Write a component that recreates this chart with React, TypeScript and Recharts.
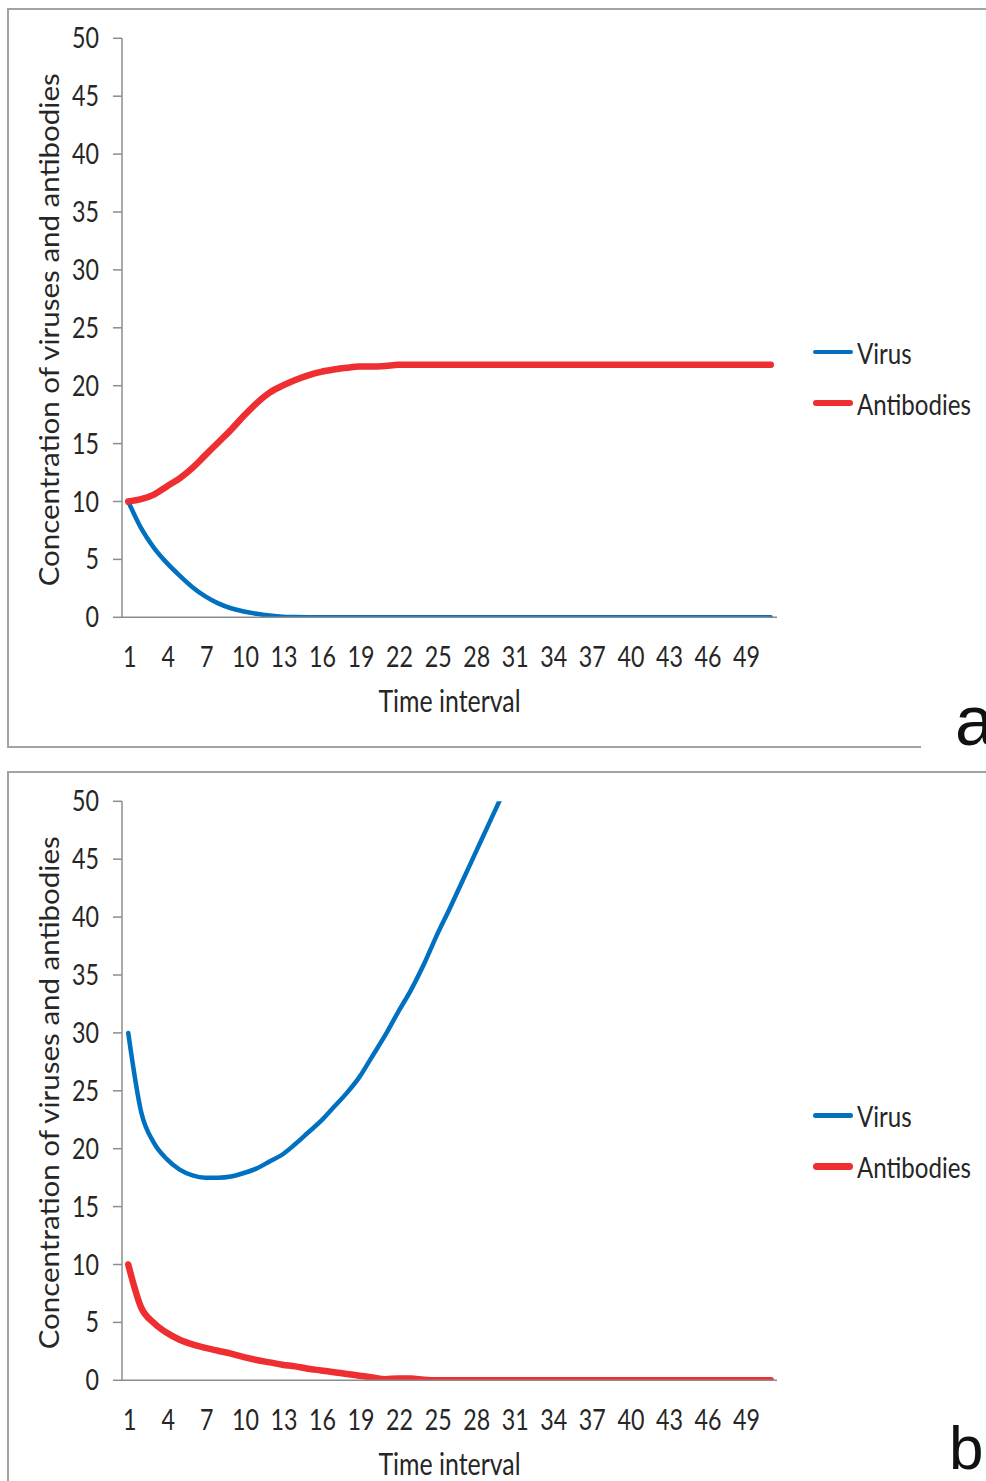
import { LineChart, Line, XAxis, YAxis, Legend } from 'recharts';

// Time steps 1..51 (category axis)
const timeSteps = [
  1, 2, 3, 4, 5, 6, 7, 8, 9, 10, 11, 12, 13, 14, 15, 16, 17, 18, 19, 20,
  21, 22, 23, 24, 25, 26, 27, 28, 29, 30, 31, 32, 33, 34, 35, 36, 37, 38, 39, 40,
  41, 42, 43, 44, 45, 46, 47, 48, 49, 50, 51,
];

// Panel a: antibodies clear the virus
const virusA = [
  10, 7.7, 6.0, 4.7, 3.6, 2.6, 1.8, 1.2, 0.78, 0.5, 0.3, 0.15, 0.05, 0.02, 0.01, 0,
  0, 0, 0, 0, 0, 0, 0, 0, 0, 0, 0, 0, 0, 0, 0, 0, 0, 0, 0, 0, 0, 0, 0, 0, 0, 0, 0,
  0, 0, 0, 0, 0, 0, 0, 0,
];
const antibodiesA = [
  10, 10.2, 10.6, 11.3, 12.0, 12.9, 14.0, 15.1, 16.2, 17.4, 18.5, 19.4, 20.0, 20.5,
  20.9, 21.2, 21.4, 21.55, 21.65, 21.65, 21.7, 21.8, 21.8, 21.8, 21.8, 21.8, 21.8,
  21.8, 21.8, 21.8, 21.8, 21.8, 21.8, 21.8, 21.8, 21.8, 21.8, 21.8, 21.8, 21.8, 21.8,
  21.8, 21.8, 21.8, 21.8, 21.8, 21.8, 21.8, 21.8, 21.8, 21.8,
];

// Panel b: virus escapes, antibodies die out (virus runs off the top of the scale)
const virusB = [
  30, 23.2, 20.5, 19.1, 18.2, 17.7, 17.5, 17.5, 17.6, 17.9, 18.3, 18.9, 19.5, 20.4,
  21.4, 22.4, 23.6, 24.8, 26.2, 28.0, 29.8, 31.8, 33.7, 35.9, 38.4, 40.7, 43.1, 45.5,
  47.9, 50.3, 52.8,
];
const antibodiesB = [
  10, 6.3, 4.95, 4.1, 3.5, 3.1, 2.8, 2.55, 2.3, 2.0, 1.75, 1.55, 1.35, 1.2, 1.0, 0.85,
  0.7, 0.55, 0.4, 0.25, 0.1, 0.15, 0.15, 0.05, 0, 0, 0, 0, 0, 0, 0, 0, 0, 0, 0, 0, 0,
  0, 0, 0, 0, 0, 0, 0, 0, 0, 0, 0, 0, 0, 0,
];

const yTicks = [0, 5, 10, 15, 20, 25, 30, 35, 40, 45, 50];
const seriesOrder = ['virus', 'antibodies'];

const FONT = 'Lato, "Open Sans", sans-serif';
const TAG_FONT = '"Liberation Sans", Arial, sans-serif';
const TEXT = '#262626';
const AXIS = '#8c8c8c';
const FRAME = '#a3a3a3';
const BLUE = '#0070c0';
const RED = '#ee2e31';
const SQUEEZE = 0.83;

const LINE_WIDTH: Record<string, number> = { virus: 4.5, antibodies: 6.5 };

function buildRows(virus: (number | null)[], antibodies: number[]) {
  return timeSteps.map((t, i) => ({
    t,
    virus: virus[i] ?? null,
    antibodies: antibodies[i],
  }));
}

function YTick({ x, y, payload }: any) {
  return (
    <g transform={`translate(${x},${y}) scale(${SQUEEZE},1)`}>
      <text textAnchor="end" dy="0.36em" fill={TEXT} fontFamily={FONT} fontSize={28}>
        {payload.value}
      </text>
    </g>
  );
}

function XTick({ x, y, payload }: any) {
  return (
    <g transform={`translate(${x + 1.5},${y}) scale(${SQUEEZE},1)`}>
      <text textAnchor="middle" dy="0.71em" fill={TEXT} fontFamily={FONT} fontSize={28}>
        {payload.value}
      </text>
    </g>
  );
}

function XTitle({ viewBox }: any) {
  const cx = viewBox.x + viewBox.width / 2;
  const baseline = viewBox.y + 94.7;
  return (
    <g transform={`translate(${cx},${baseline}) scale(${SQUEEZE},1)`}>
      <text textAnchor="middle" fill={TEXT} fontFamily={FONT} fontSize={30}>
        Time interval
      </text>
    </g>
  );
}

function YTitle({ viewBox }: any) {
  const cy = viewBox.y + viewBox.height / 2 + 2;
  return (
    <g transform={`translate(50,${cy}) scale(0.9,1) rotate(-90)`}>
      <text textAnchor="middle" dy="0.35em" fill={TEXT} fontFamily={FONT} fontSize={29.5}>
        Concentration of viruses and antibodies
      </text>
    </g>
  );
}

function SeriesLegend({ payload }: any) {
  const items = seriesOrder
    .map((key) => (payload || []).find((p: any) => p.dataKey === key))
    .filter(Boolean);
  return (
    <div style={{ fontFamily: FONT, fontSize: 29, color: TEXT }}>
      {items.map((entry: any) => (
        <div
          key={entry.dataKey}
          style={{ display: 'flex', alignItems: 'center', height: 51, whiteSpace: 'nowrap' }}
        >
          <span
            style={{
              display: 'inline-block',
              width: 40,
              height: LINE_WIDTH[entry.dataKey] ?? 4,
              background: entry.color,
              borderRadius: 4,
            }}
          />
          <span
            style={{
              display: 'inline-block',
              marginLeft: 4,
              transform: `scaleX(${SQUEEZE})`,
              transformOrigin: 'left center',
            }}
          >
            {entry.value}
          </span>
        </div>
      ))}
    </div>
  );
}

interface PanelProps {
  rows: any[];
  top: number;
  tag: string;
  tagSize: number;
  tagLeft: number;
  tagBaseline: number;
  coverFrame: boolean;
}

function Panel({ rows, top, tag, tagSize, tagLeft, tagBaseline, coverFrame }: PanelProps) {
  // Liberation Sans ascent 0.905em, content area 1.117em
  const tagTop = tagBaseline - 0.905 * tagSize + ((1.117 - 1) * tagSize) / 2;
  return (
    <div style={{ position: 'absolute', left: 0, top, width: 986, height: 720 }}>
      <LineChart
        width={986}
        height={720}
        data={rows}
        margin={{ top: 38.3, right: 209, bottom: 0, left: 0 }}
      >
        <XAxis
          dataKey="t"
          interval={2}
          padding={{ left: 6.25, right: 6.25 }}
          tickLine={false}
          tickSize={0}
          tickMargin={30}
          height={102.7}
          axisLine={{ stroke: AXIS, strokeWidth: 1.5 }}
          tick={<XTick />}
          label={<XTitle />}
        />
        <YAxis
          type="number"
          domain={[0, 50]}
          ticks={yTicks}
          interval={0}
          allowDataOverflow
          width={122}
          tickSize={9}
          tickMargin={14}
          axisLine={{ stroke: AXIS, strokeWidth: 1.5 }}
          tickLine={{ stroke: AXIS, strokeWidth: 1.5 }}
          tick={<YTick />}
          label={<YTitle />}
        />
        <Legend
          layout="vertical"
          align="center"
          verticalAlign="middle"
          content={<SeriesLegend />}
          wrapperStyle={{ left: 813, top: 326.5, width: 'auto' }}
        />
        <Line
          type="monotone"
          dataKey="virus"
          name="Virus"
          stroke={BLUE}
          strokeWidth={LINE_WIDTH.virus}
          strokeLinecap="round"
          dot={false}
          activeDot={false}
          isAnimationActive={false}
        />
        <Line
          type="monotone"
          dataKey="antibodies"
          name="Antibodies"
          stroke={RED}
          strokeWidth={LINE_WIDTH.antibodies}
          strokeLinecap="round"
          dot={false}
          activeDot={false}
          isAnimationActive={false}
        />
      </LineChart>
      {coverFrame && (
        <div
          style={{
            position: 'absolute',
            left: 921,
            top: 690,
            width: 80,
            height: 60,
            background: '#fff',
          }}
        />
      )}
      <span
        style={{
          position: 'absolute',
          left: tagLeft,
          top: tagTop,
          fontFamily: TAG_FONT,
          fontSize: tagSize,
          lineHeight: `${tagSize}px`,
          color: '#111',
        }}
      >
        {tag}
      </span>
    </div>
  );
}

export default function App() {
  return (
    <div
      style={{
        position: 'absolute',
        left: 0,
        top: 0,
        width: 986,
        height: 1481,
        overflow: 'hidden',
        background: '#fff',
      }}
    >
      {/* panel frames */}
      <div
        style={{
          position: 'absolute',
          left: 7,
          top: 8,
          width: 1000,
          height: 740,
          boxSizing: 'border-box',
          border: `2px solid ${FRAME}`,
        }}
      />
      <div
        style={{
          position: 'absolute',
          left: 7,
          top: 771,
          width: 1000,
          height: 800,
          boxSizing: 'border-box',
          border: `2px solid ${FRAME}`,
        }}
      />
      <Panel
        rows={buildRows(virusA, antibodiesA)}
        top={0}
        tag="a"
        tagSize={70}
        tagLeft={955}
        tagBaseline={745}
        coverFrame
      />
      <Panel
        rows={buildRows(virusB, antibodiesB)}
        top={763.4}
        tag="b"
        tagSize={62}
        tagLeft={949}
        tagBaseline={705.6}
        coverFrame={false}
      />
    </div>
  );
}
